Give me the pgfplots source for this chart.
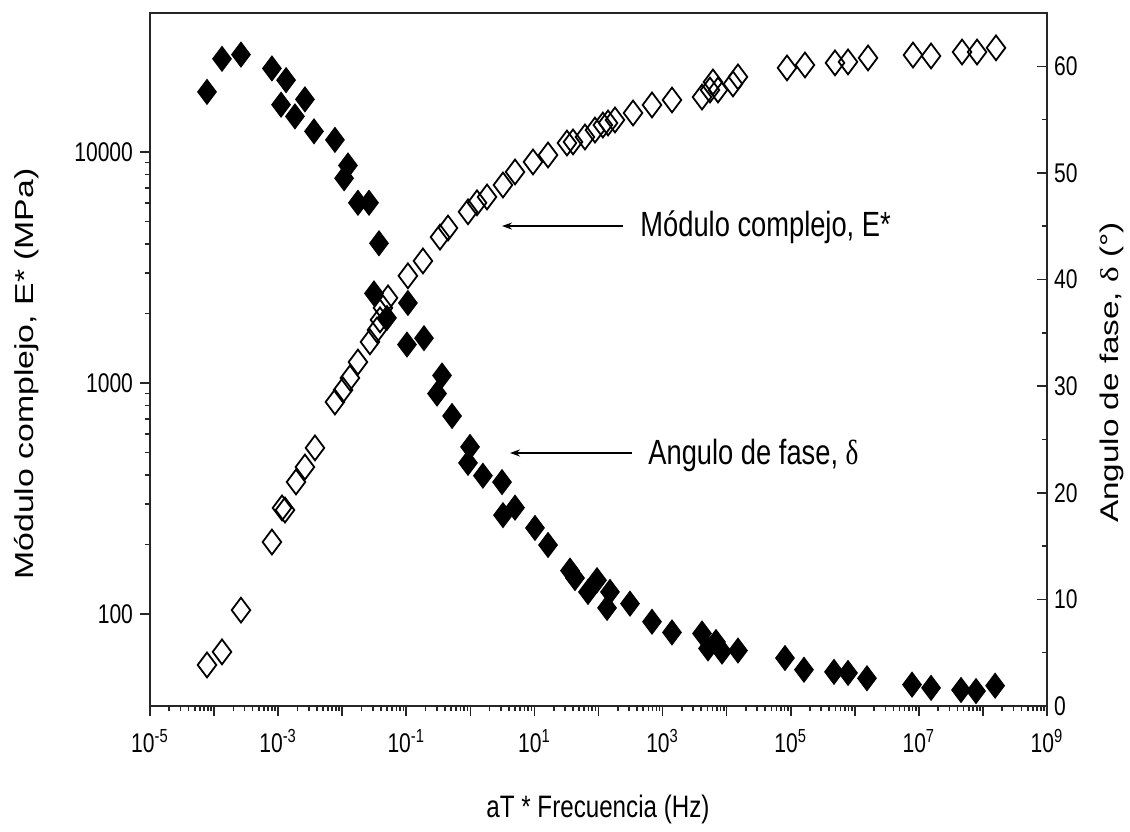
\documentclass[border=0pt]{standalone}
\usepackage{fontspec}
\setmainfont[FakeStretch=0.78]{Liberation Sans}
\newfontfamily\widefont[FakeStretch=1.3]{Liberation Sans}
\newfontfamily\grk[FakeStretch=0.78]{Liberation Serif}
\newfontfamily\grkwide[FakeStretch=1.3]{Liberation Serif}
\usepackage{pgfplots}
\pgfplotsset{compat=1.18}
\usetikzlibrary{arrows.meta}

\begin{document}
\begin{tikzpicture}
% modulo complejo (eje izquierdo)
\begin{axis}[
  scale only axis, width=448.5pt, height=346.5pt,
  xmode=log, xmin=1e-5, xmax=1e9,
  ymode=log, ymin=40, ymax=40000,
  major tick length=5pt, minor tick length=2.5pt,
  axis line style={line width=1pt, black!85},
  tick style={line width=0.8pt, black!85},
  tick label style={font=\fontsize{13.5}{15}\selectfont},
  xticklabel style={yshift=-3pt},
  /pgf/number format/assume math mode=true,
  clip=false,
  xtick={1e-5,1e-4,1e-3,1e-2,1e-1,1,1e1,1e2,1e3,1e4,1e5,1e6,1e7,1e8,1e9},
  xticklabels={10\textsuperscript{-5},{},10\textsuperscript{-3},{},10\textsuperscript{-1},{},10\textsuperscript{1},{},10\textsuperscript{3},{},10\textsuperscript{5},{},10\textsuperscript{7},{},10\textsuperscript{9}},
  ytick={100,1000,10000}, yticklabels={100,1000,10000},
  xtick pos=left, ytick pos=left, tick align=outside,
]
\addplot[only marks, mark=diamond, mark size=6.2pt, mark options={line width=0.9pt, black}] coordinates {
(7.76e-5,60.2) (1.33e-4,68.6) (2.63e-4,104) (8.0e-4,205) (1.15e-3,288)
(1.28e-3,282) (1.90e-3,373) (2.62e-3,433) (3.76e-3,524) (7.7e-3,828)
(0.0103,933) (0.0132,1052) (0.0176,1233) (0.0271,1507) (0.0349,1698)
(0.0389,1877) (0.0433,2115) (0.0519,2336) (0.106,2912) (0.182,3377)
(0.336,4283) (0.448,4690) (0.919,5510) (1.27,6030) (1.82,6390)
(3.23,7200) (4.98,8200) (9.5,9060) (16.3,9710) (32.2,10940)
(40.0,11060) (61.5,11620) (88.1,12450) (117,13090) (141,13360)
(181,13770) (346,14760) (684,15990) (1403,16800) (4127,17300)
(5500,18560) (7330,18560) (6120,20100) (12560,19720) (15030,21150)
(87500,23130) (1.67e5,23820) (4.91e5,24320) (7.84e5,24560) (1.61e6,25550)
(8.1e6,26300) (1.55e7,26050) (4.72e7,27100) (8.1e7,27100) (1.6e8,28250)
};
\end{axis}
% angulo de fase (eje derecho)
\begin{axis}[
  scale only axis, width=448.5pt, height=346.5pt,
  xmode=log, xmin=1e-5, xmax=1e9,
  ymin=0, ymax=65,
  major tick length=5pt, minor tick length=2.5pt,
  axis line style={line width=1pt, black!85},
  tick style={line width=0.8pt, black!85},
  tick label style={font=\fontsize{13.5}{15}\selectfont},
  /pgf/number format/assume math mode=true,
  clip=false,
  axis x line=none, axis y line*=right,
  ytick={0,10,...,60}, minor y tick num=1,
  tick align=inside,
]
\addplot[only marks, mark=diamond*, mark size=6.2pt, mark options={line width=0.5pt, black, fill=black}] coordinates {
(7.76e-5,57.6) (1.33e-4,60.7) (2.63e-4,61.1) (8.0e-4,59.8) (1.33e-3,58.7)
(1.11e-3,56.4) (1.83e-3,55.3) (2.62e-3,56.9) (3.63e-3,53.9) (7.7e-3,53.1)
(0.0123,50.7) (0.0107,49.5) (0.0176,47.2) (0.0262,47.2) (0.0375,43.4)
(0.0313,38.7) (0.050,36.4) (0.106,37.8) (0.1026,33.9) (0.189,34.5)
(0.361,31.0) (0.302,29.3) (0.518,27.2) (0.989,24.3) (0.919,22.8)
(1.57,21.6) (3.12,21.0) (3.23,17.9) (4.98,18.6) (10.2,16.7)
(16.3,15.1) (35.9,12.7) (43,12.0) (68.5,10.7) (94.8,11.8)
(151,10.7) (136,9.2) (310,9.6) (684,7.9) (1403,6.9)
(4127,6.8) (5120,5.4) (6820,6.0) (8470,5.1) (15030,5.2)
(81400,4.5) (1.61e5,3.4) (4.74e5,3.2) (7.84e5,3.1) (1.55e6,2.6)
(7.82e6,2.0) (1.55e7,1.7) (4.55e7,1.5) (7.8e7,1.4) (1.55e8,1.9)
};
\draw[line width=1pt, -{Stealth[length=5pt, width=3.5pt]}] (rel axis cs:0.5273,0.6926) -- (rel axis cs:0.3924,0.6926);
\node[anchor=base west, inner sep=0pt, font=\fontsize{17.5}{20}\selectfont] at (rel axis cs:0.5463,0.6768) {Módulo complejo, E*};
\draw[line width=1pt, -{Stealth[length=5pt, width=3.5pt]}] (rel axis cs:0.5373,0.3651) -- (rel axis cs:0.4013,0.3651);
\node[anchor=base west, inner sep=0pt, font=\fontsize{17.5}{20}\selectfont] at (rel axis cs:0.5552,0.3478) {Angulo de fase, {\grk δ}};
\node[anchor=base, inner sep=0pt, font=\fontsize{15.5}{18}\selectfont] at (rel axis cs:0.4994,-0.1616) {aT * Frecuencia (Hz)};
\node[rotate=90, anchor=base, inner sep=0pt, font=\widefont\fontsize{13}{15}\selectfont] at (rel axis cs:-0.1304,0.479) {Módulo complejo, E* (MPa)};
\node[rotate=90, anchor=base, inner sep=0pt, font=\widefont\fontsize{12.8}{15}\selectfont] at (rel axis cs:1.0792,0.4812) {Angulo de fase, {\grkwide δ} (°)};
\coordinate (bbl) at (rel axis cs:-0.16722,-0.18182);
\coordinate (btr) at (rel axis cs:1.09253,1.01876);
\end{axis}
\pgfresetboundingbox
\path[use as bounding box] (bbl) rectangle (btr);
\end{tikzpicture}
\end{document}
